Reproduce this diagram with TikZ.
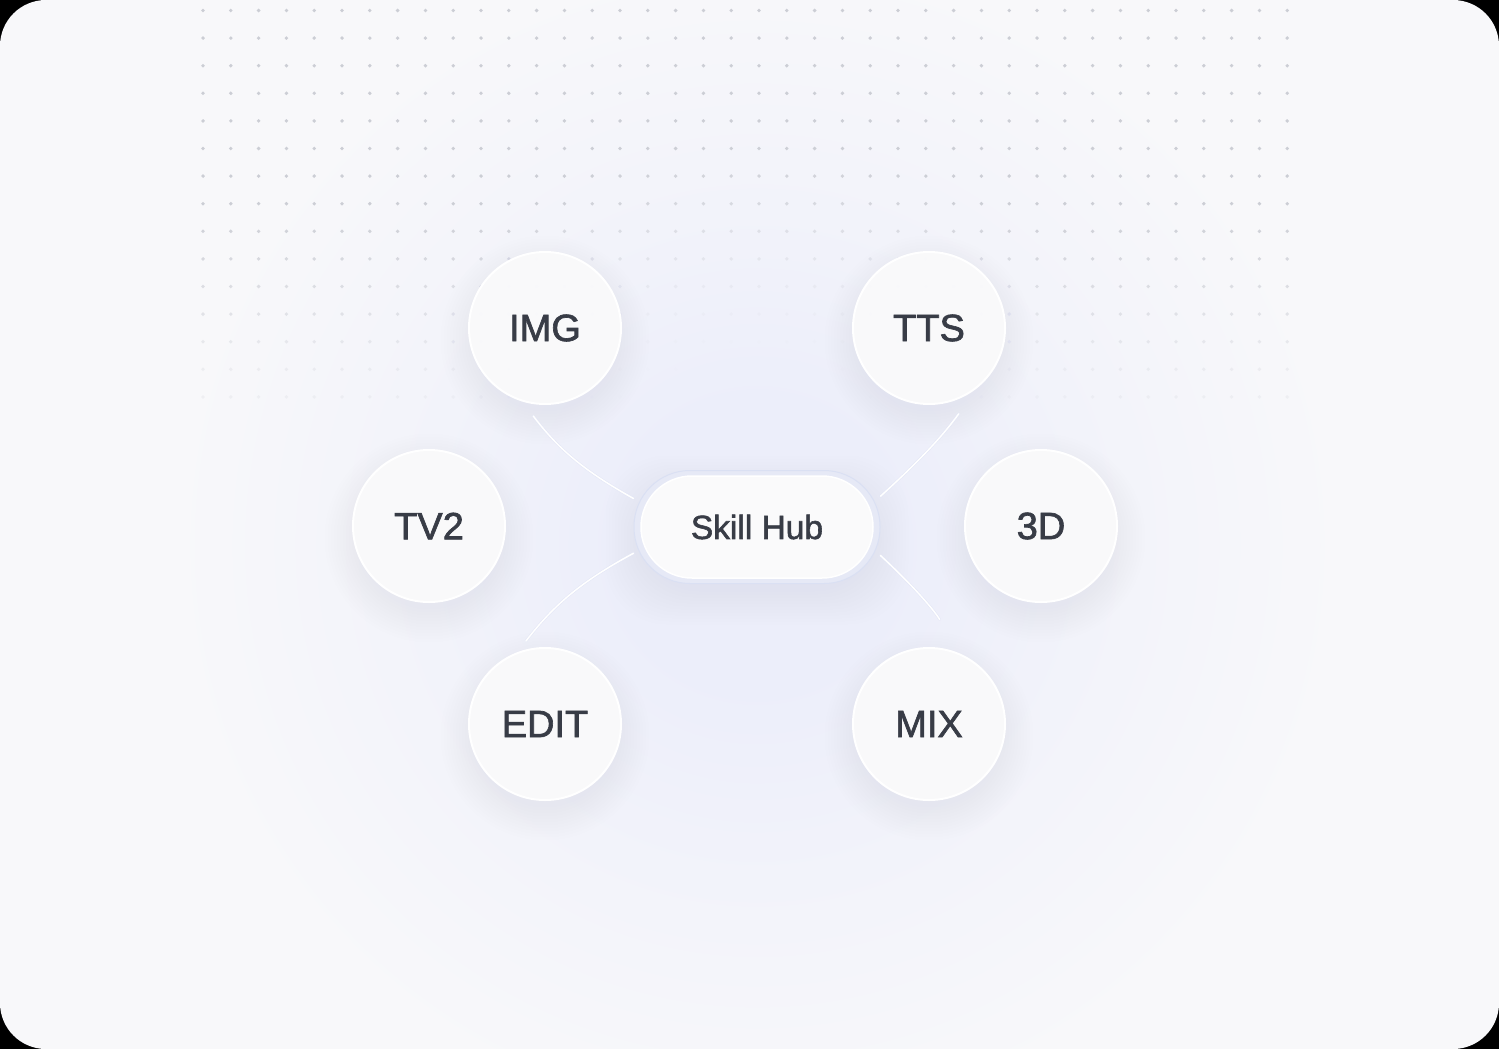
\documentclass[tikz,border=0pt]{standalone}
\usepackage{fontspec}
\setmainfont{Liberation Sans}
\newfontfamily\mittel[FakeBold=1.7]{Liberation Sans}
\definecolor{karte}{HTML}{F8F8FA}
\definecolor{punkt}{HTML}{CCCED5}
\definecolor{schrift}{HTML}{383C46}
\definecolor{glanz}{HTML}{ECEEFA}
\definecolor{glanzmitte}{HTML}{F2F3FA}
\definecolor{schatten}{HTML}{C6CDF0}
\definecolor{kreis}{HTML}{FAFAFB}
\definecolor{ring}{HTML}{E6E9F6}
\definecolor{ringrand}{HTML}{DAE0F3}
\definecolor{linienrand}{HTML}{E3E7F6}
\pgfdeclareradialshading{glow}{\pgfpoint{0bp}{0bp}}{color(0bp)=(glanz); color(5bp)=(glanz); color(12bp)=(glanzmitte); color(21bp)=(karte); color(50bp)=(karte)}
\tikzset{
  skill/.style={circle, minimum size=152pt, inner sep=0pt, fill=kreis, fill opacity=.96, text opacity=1,
    draw=white, line width=2pt, text=schrift, font=\mittel\fontsize{38}{40}\selectfont},
  verbindung/.style={draw=linienrand, double=white, double distance=1.5pt, line width=.5pt, line cap=round},
}
\begin{document}
\begin{tikzpicture}[x=1pt,y=-1pt]
	% Rahmen
	\useasboundingbox (0,0) rectangle (1499,1049);
	\fill[black] (0,0) rectangle (1499,1049);
	\fill[karte, rounded corners=46pt] (0,0) rectangle (1499,1049);
	% Schein
	\begin{scope}
		\clip[rounded corners=46pt] (0,0) rectangle (1499,1049);
		\shade[shading=glow] (757,545) circle (700);
	\end{scope}
	% Punkteraster
	\foreach \i in {0,...,39} {
		\foreach \j in {0,...,14} {
			\pgfmathsetmacro\px{203+27.8*\i}
			\pgfmathsetmacro\py{10.5+27.6*\j}
			\pgfmathsetmacro\dd{veclen(\px-757,\py-527)}
			\pgfmathsetmacro\zf{\j<8 ? 1 : max(0.2,1-(\j-7)/8)}
			\pgfmathsetmacro\op{min(1,max(0,(\dd-170)/220))*\zf}
			\fill[punkt, opacity=\op] (\px,\py) circle (1.9);
		}
	}
	% Schatten
	\foreach \x/\y in {545/328, 929/328, 429/526, 1041/526, 545/724, 929/724} {
		\foreach \k in {1,...,12}
			\fill[schatten, opacity=.018] (\x,\y+12) circle (68+3*\k);
	}
	\foreach \k in {1,...,12}
		\fill[schatten, opacity=.02, rounded corners=60pt] (757-115-3*\k,540-48-3*\k) rectangle (757+115+3*\k,540+48+3*\k);
	% Knoten
	\foreach \n/\x/\y/\t in {img/545/328/IMG, tts/929/328/TTS, tv/429/526/TV2, dd/1041/526/3D, edit/545/724/EDIT, mix/929/724/MIX}
		\node[skill] (\n) at (\x,\y) {\t};
	\node[rectangle, rounded corners=56pt, minimum width=246pt, minimum height=113pt, fill=ring, draw=ringrand, line width=1pt] (hub) at (757,527) {};
	\node[rectangle, rounded corners=51pt, minimum width=232pt, minimum height=102pt, fill=kreis, draw=white, line width=1.5pt,
		text=schrift, font=\mittel\fontsize{33.5}{36}\selectfont] (hubkern) at (hub.center) {Skill Hub};
	% Verbindungen
	\draw[verbindung, shorten <=18pt] (img.253) to[bend right=12] (hub.167);
	\draw[verbindung, shorten <=32pt] (tts.309) to[bend left=6] (hub.14);
	\draw[verbindung, shorten <=14pt] (edit.111) to[bend left=12] (hub.192);
	\draw[verbindung, shorten >=40pt] (hub.347) to[bend left=8] (mix.66.5);
\end{tikzpicture}
\end{document}
